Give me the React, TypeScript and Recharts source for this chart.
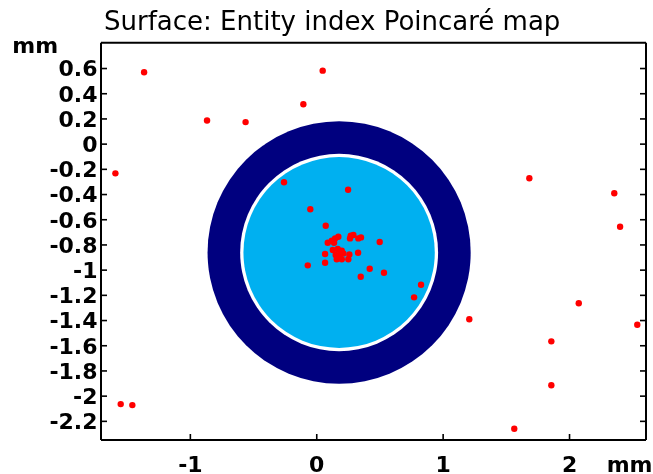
import React from "react";
import { ScatterChart, Scatter, XAxis, YAxis } from "recharts";

// ---- data (mm) ----
const xTicks = [-1, 0, 1, 2];
const yTicks = [0.6, 0.4, 0.2, 0, -0.2, -0.4, -0.6, -0.8, -1, -1.2, -1.4, -1.6, -1.8, -2, -2.2];

const ringCenter = [{ x: 0.177, y: -0.86 }];
const ringOuterRadius = 1.041;
const ringGapRadius = 0.783;
const ringInnerRadius = 0.757;

const strayPoints = [
  { x: -1.366, y: 0.57 },
  { x: -0.868, y: 0.187 },
  { x: -0.563, y: 0.175 },
  { x: 0.047, y: 0.583 },
  { x: -0.106, y: 0.316 },
  { x: -1.593, y: -0.232 },
  { x: -1.551, y: -2.063 },
  { x: -1.459, y: -2.071 },
  { x: 1.563, y: -2.259 },
  { x: 1.682, y: -0.271 },
  { x: 2.354, y: -0.39 },
  { x: 2.4, y: -0.656 },
  { x: 2.073, y: -1.263 },
  { x: 2.536, y: -1.433 },
  { x: 1.856, y: -1.565 },
  { x: 1.856, y: -1.914 },
  { x: 1.207, y: -1.39 },
];

const corePoints = [
  { x: 0.825, y: -1.116 },
  { x: 0.77, y: -1.216 },
  { x: -0.259, y: -0.303 },
  { x: 0.248, y: -0.362 },
  { x: -0.051, y: -0.517 },
  { x: -0.071, y: -0.962 },
  { x: 0.498, y: -0.777 },
  { x: 0.419, y: -0.989 },
  { x: 0.348, y: -1.052 },
  { x: 0.532, y: -1.021 },
  { x: 0.071, y: -0.648 },
  { x: 0.087, y: -0.783 },
  { x: 0.119, y: -0.767 },
  { x: 0.145, y: -0.748 },
  { x: 0.171, y: -0.735 },
  { x: 0.137, y: -0.783 },
  { x: 0.269, y: -0.727 },
  { x: 0.29, y: -0.721 },
  { x: 0.263, y: -0.748 },
  { x: 0.329, y: -0.748 },
  { x: 0.35, y: -0.74 },
  { x: 0.066, y: -0.872 },
  { x: 0.127, y: -0.84 },
  { x: 0.166, y: -0.832 },
  { x: 0.198, y: -0.846 },
  { x: 0.15, y: -0.88 },
  { x: 0.184, y: -0.875 },
  { x: 0.21, y: -0.867 },
  { x: 0.258, y: -0.875 },
  { x: 0.158, y: -0.914 },
  { x: 0.198, y: -0.914 },
  { x: 0.25, y: -0.914 },
  { x: 0.327, y: -0.862 },
  { x: 0.066, y: -0.941 },
];

// ---- layout ----
const XMIN = -1.707;
const XMAX = 2.605;
const YMIN = -2.348;
const YMAX = 0.805;
const W = 645;
const H = 466;
const LEFT_W = 93;
const RIGHT_W = 7;
const BOTTOM_H = 34;
const TOP_H = 5;
const MARGIN_TOP = 29.7;
const PLOT_W = W - LEFT_W - RIGHT_W;
const PLOT_H = H - MARGIN_TOP - TOP_H - BOTTOM_H;
const PX_X = PLOT_W / (XMAX - XMIN);
const PX_Y = PLOT_H / (YMAX - YMIN);

const FONT = "'DejaVu Sans', sans-serif";
const tickStyle = { fontSize: 22, fontWeight: "bold", fill: "#000", fontFamily: FONT };
const axisLine = { stroke: "#000", strokeWidth: 2 };
const tickLine = { stroke: "#000", strokeWidth: 1.6 };

const RingShape = (p: any) => (
  <g>
    <ellipse cx={p.cx} cy={p.cy} rx={ringOuterRadius * PX_X} ry={ringOuterRadius * PX_Y} fill="#00007f" />
    <ellipse cx={p.cx} cy={p.cy} rx={ringGapRadius * PX_X} ry={ringGapRadius * PX_Y} fill="#ffffff" />
    <ellipse cx={p.cx} cy={p.cy} rx={ringInnerRadius * PX_X} ry={ringInnerRadius * PX_Y} fill="#00b0f0" />
  </g>
);

const DotShape = (p: any) => <circle cx={p.cx} cy={p.cy} r={3.2} fill="#ff0000" />;

export default function App() {
  return (
    <div style={{ position: "fixed", left: 8, top: 8, width: W, height: H, fontFamily: FONT }}>
      <ScatterChart width={W} height={H} margin={{ top: MARGIN_TOP, right: 0, bottom: 0, left: 0 }}>
        <XAxis
          type="number"
          dataKey="x"
          domain={[XMIN, XMAX]}
          allowDataOverflow
          ticks={xTicks}
          interval={0}
          height={BOTTOM_H}
          tickSize={-6}
          tickMargin={22}
          axisLine={axisLine}
          tickLine={tickLine}
          tick={tickStyle}
        />
        <XAxis
          xAxisId="t"
          orientation="top"
          type="number"
          domain={[XMIN, XMAX]}
          allowDataOverflow
          ticks={xTicks}
          interval={0}
          height={TOP_H}
          tickSize={-6}
          axisLine={axisLine}
          tickLine={tickLine}
          tickFormatter={() => ""}
        />
        <YAxis
          type="number"
          dataKey="y"
          domain={[YMIN, YMAX]}
          allowDataOverflow
          ticks={yTicks}
          interval={0}
          width={LEFT_W}
          tickSize={-6}
          tickMargin={9.5}
          axisLine={axisLine}
          tickLine={tickLine}
          tick={tickStyle}
        />
        <YAxis
          yAxisId="r"
          orientation="right"
          type="number"
          domain={[YMIN, YMAX]}
          allowDataOverflow
          ticks={yTicks}
          interval={0}
          width={RIGHT_W}
          tickSize={-6}
          axisLine={axisLine}
          tickLine={tickLine}
          tickFormatter={() => ""}
        />
        <Scatter data={ringCenter} shape={RingShape} isAnimationActive={false} />
        <Scatter data={corePoints} shape={DotShape} isAnimationActive={false} />
        <Scatter data={strayPoints} shape={DotShape} isAnimationActive={false} />
      </ScatterChart>
      <svg width={W} height={H} style={{ position: "absolute", left: 0, top: 0, pointerEvents: "none" }}>
        <text x={96} y={22} fontSize={26} fontFamily={FONT} fill="#000">
          Surface: Entity index Poincaré map
        </text>
        <text x={4.3} y={45.3} fontSize={22} fontWeight="bold" fontFamily={FONT} fill="#000">
          mm
        </text>
        <text x={598.7} y={463.7} fontSize={22} fontWeight="bold" fontFamily={FONT} fill="#000">
          mm
        </text>
      </svg>
    </div>
  );
}
